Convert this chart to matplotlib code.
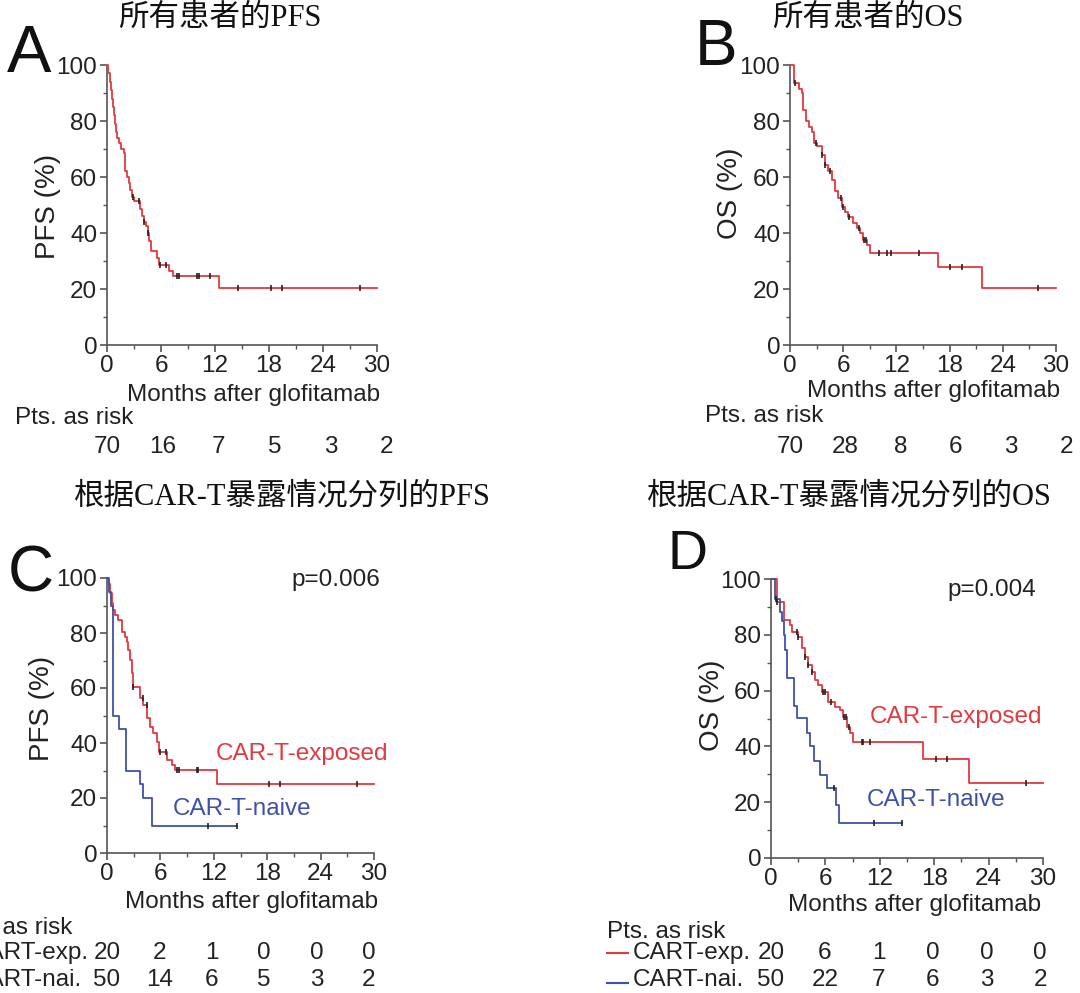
import numpy as np
import matplotlib.pyplot as plt
from matplotlib.ticker import MultipleLocator
from matplotlib.lines import Line2D
from matplotlib.transforms import blended_transform_factory

plt.rcParams['font.family'] = ['Liberation Sans', 'Noto Sans CJK SC', 'DejaVu Sans']

W, H = 1080, 993
RED = '#e3393f'
BLUE = '#3e50a8'
INK = '#222222'
AXC = '#555555'
TITLE_FONT = ['Liberation Serif', 'Noto Sans CJK SC']
TXT = 17.5

# ---- data (months, survival %) ----
a_pfs_t = [0, 0.15, 0.3, 0.45, 0.55, 0.65, 0.75, 0.85, 0.95, 1.15, 1.35, 1.5, 1.85, 1.95, 2.05,
           2.25, 2.4, 2.6, 2.8, 2.95, 3.65, 3.85, 4.1, 4.3, 4.5, 4.7, 4.9, 5.6, 5.75, 6.9, 7.3, 12.4, 30]
a_pfs_s = [100, 97, 94, 91, 88, 85, 82, 79, 76, 74, 72, 70, 68.5, 65, 62,
           60, 58, 55.5, 53, 51.5, 48.5, 46, 44, 42.5, 40, 37, 33.5, 31, 28.5, 26.5, 24.5, 20.5, 20.5]
a_pfs_cens = [2.85, 3.6, 4.1, 4.5, 5.9, 6.55, 7.8, 8.0, 10.0, 10.2, 11.4, 14.5, 18.2, 19.4, 28.1]

b_os_t = [0, 0.45, 1.05, 1.3, 1.5, 1.8, 2.18, 2.44, 2.7, 3.0, 3.57, 3.95, 4.32, 4.7, 5.08, 5.45,
          5.83, 6.2, 6.58, 7.07, 7.52, 7.9, 8.27, 8.65, 9.0, 16.7, 21.7, 30]
b_os_s = [100, 93.5, 91.3, 90, 84, 80, 78, 76, 72, 71, 68, 64.3, 62, 59, 55, 52.4,
          49.4, 47.6, 45.8, 43.5, 41.7, 39.9, 37.5, 35.7, 32.7, 28, 20.5, 20.5]
b_os_cens = [0.55, 2.9, 3.6, 4.0, 4.5, 5.8, 5.95, 6.65, 7.8, 8.4, 8.55, 10.0, 10.9, 11.35,
             14.5, 18.1, 19.4, 28.0]

c_exp_t = [0, 0.15, 0.34, 0.52, 0.71, 0.9, 1.27, 1.65, 2.02, 2.2, 2.4, 2.58, 2.77, 2.96, 3.7,
           4.08, 4.46, 4.83, 5.2, 5.58, 5.88, 6.7, 7.27, 7.64, 12.4, 30]
c_exp_s = [100, 98, 94.4, 90.8, 88.4, 86.5, 84.7, 80.5, 78.7, 76.8, 73.8, 70.2, 65.3, 60.5, 56.2,
           53.8, 49, 46, 43.5, 40.5, 36.8, 33.8, 32, 30.2, 25, 25]
c_exp_cens = [2.96, 4.0, 4.45, 5.96, 6.6, 7.9, 8.1, 10.1, 10.2, 18.2, 19.4, 28.05]
c_nai_t = [0, 0.2, 0.45, 0.71, 1.38, 2.13, 3.7, 4.08, 5.0, 14.6]
c_nai_s = [100, 95, 90, 50, 45, 30, 25, 20, 10, 10]
c_nai_cens = [11.4, 14.6]

d_exp_t = [0, 0.62, 1.47, 2.1, 2.28, 3.0, 3.38, 3.75, 4.12, 4.49, 4.85, 5.22, 5.59, 6.32, 7.06,
           7.6, 7.98, 8.35, 8.71, 9.08, 16.8, 21.84, 30]
d_exp_s = [100, 91.9, 85.3, 83.5, 81, 79.3, 75.1, 72, 69, 66.8, 63.8, 62, 59.6, 56, 54.2,
           53, 50.6, 47, 44.7, 41.7, 35.5, 26.8, 26.8]
d_exp_cens = [0.62, 2.83, 3.0, 3.75, 4.12, 4.49, 5.77, 5.95, 6.6, 8.0, 8.3, 8.55, 10.0, 10.1,
              10.9, 18.2, 19.4, 28.1]
d_nai_t = [0, 0.48, 0.95, 1.21, 1.4, 1.58, 1.76, 2.5, 2.87, 3.97, 4.34, 4.7, 5.44, 6.18, 7.17, 7.46, 14.45]
d_nai_s = [100, 93, 88, 85, 80, 74.7, 64.5, 54.4, 50.2, 44.8, 40, 34.6, 29.9, 25, 19.1, 12.5, 12.5]
d_nai_cens = [0.55, 6.9, 11.4, 14.45]

risk_times = [0, 6, 12, 18, 24, 30]
a_risk = [70, 16, 7, 5, 3, 2]
b_risk = [70, 28, 8, 6, 3, 2]
c_risk_exp = [20, 2, 1, 0, 0, 0]
c_risk_nai = [50, 14, 6, 5, 3, 2]
d_risk_exp = [20, 6, 1, 0, 0, 0]
d_risk_nai = [50, 22, 7, 6, 3, 2]

titles = ['所有患者的PFS', '所有患者的OS', '根据CAR-T暴露情况分列的PFS', '根据CAR-T暴露情况分列的OS']


def fx(px):
    return px / W


def fy(py):
    return 1 - py / H


def make_axes(fig, l, t, r, b):
    return fig.add_axes([fx(l), fy(b), (r - l) / W, (b - t) / H])


def style(ax, ylabel, ylab_xy, xlab_xy):
    ax.set_xlim(0, 30)
    ax.set_ylim(0, 100)
    ax.spines[['top', 'right']].set_visible(False)
    for s in ['left', 'bottom']:
        ax.spines[s].set_color(AXC)
        ax.spines[s].set_linewidth(1.2)
    ax.xaxis.set_major_locator(MultipleLocator(6))
    ax.xaxis.set_minor_locator(MultipleLocator(3))
    ax.yaxis.set_major_locator(MultipleLocator(20))
    ax.yaxis.set_minor_locator(MultipleLocator(10))
    ax.tick_params(which='major', length=5, width=1.2, color=AXC, labelsize=TXT,
                   labelcolor=INK, pad=2)
    ax.tick_params(which='minor', length=3, width=1.0, color=AXC)
    ax.text(*ylab_xy, ylabel, transform=ax.transAxes, rotation=90, ha='center',
            va='center', fontsize=20, color=INK)
    ax.text(*xlab_xy, 'Months after glofitamab', transform=ax.transAxes, ha='center',
            va='center', fontsize=TXT, color=INK)


def km(ax, t, s, cens, color):
    t = np.array(t)
    s = np.array(s)
    ax.step(t, s, where='post', color=color, lw=1.3, clip_on=False, zorder=3)
    c = np.array(cens)
    idx = np.searchsorted(t, c, side='right') - 1
    ax.plot(c, s[idx], '|', color=INK, ms=5, mew=1.2, zorder=4, clip_on=False)


def risk_row(fig, ax, values, py, stretch=1.0):
    tr = blended_transform_factory(ax.transData, fig.transFigure)
    for tt, v in zip(risk_times, values):
        fig.text(tt * stretch, fy(py), str(v), transform=tr, ha='center', va='center',
                 fontsize=TXT, color=INK)


fig = plt.figure(figsize=(W / 100, H / 100), dpi=100)

axA = make_axes(fig, 107, 65, 377, 345)
axB = make_axes(fig, 790, 65, 1056, 345)
axC = make_axes(fig, 107, 578, 374, 853)
axD = make_axes(fig, 771, 579, 1043, 858)

style(axA, 'PFS (%)', (-0.218, 0.496), (0.541, -0.179))
style(axB, 'OS (%)', (-0.226, 0.54), (0.538, -0.164))
style(axC, 'PFS (%)', (-0.243, 0.527), (0.543, -0.178))
style(axD, 'OS (%)', (-0.217, 0.548), (0.526, -0.168))

km(axA, a_pfs_t, a_pfs_s, a_pfs_cens, RED)
km(axB, b_os_t, b_os_s, b_os_cens, RED)
km(axC, c_exp_t, c_exp_s, c_exp_cens, RED)
km(axC, c_nai_t, c_nai_s, c_nai_cens, BLUE)
km(axD, d_exp_t, d_exp_s, d_exp_cens, RED)
km(axD, d_nai_t, d_nai_s, d_nai_cens, BLUE)

# group labels and p values
axC.text(1.022, 0.993, 'p=0.006', transform=axC.transAxes, ha='right', va='center',
         fontsize=TXT, color=INK)
axD.text(0.974, 0.96, 'p=0.004', transform=axD.transAxes, ha='right', va='center',
         fontsize=TXT, color=INK)
axC.text(0.408, 0.36, 'CAR-T-exposed', transform=axC.transAxes, ha='left', va='center',
         fontsize=TXT, color=RED)
axC.text(0.247, 0.16, 'CAR-T-naive', transform=axC.transAxes, ha='left', va='center',
         fontsize=TXT, color=BLUE)
axD.text(0.364, 0.504, 'CAR-T-exposed', transform=axD.transAxes, ha='left', va='center',
         fontsize=TXT, color=RED)
axD.text(0.353, 0.208, 'CAR-T-naive', transform=axD.transAxes, ha='left', va='center',
         fontsize=TXT, color=BLUE)

# titles
for text, cx, cy in zip(titles, [220, 868, 282, 849], [18, 18, 497, 497]):
    fig.text(fx(cx), fy(cy), text, ha='center', va='center', fontsize=22,
             family=TITLE_FONT, color='#111111')

# panel letters
for letter, lx, by, size in [('A', 7, 72, 48), ('B', 695, 65, 46), ('C', 8, 592, 46),
                             ('D', 667, 569, 40)]:
    fig.text(fx(lx), fy(by), letter, ha='left', va='baseline', fontsize=size, color='#111111')

# numbers at risk
fig.text(fx(15), fy(418), 'Pts. as risk', ha='left', va='center', fontsize=TXT, color=INK)
risk_row(fig, axA, a_risk, 447, stretch=1.035)
fig.text(fx(705), fy(416), 'Pts. as risk', ha='left', va='center', fontsize=TXT, color=INK)
risk_row(fig, axB, b_risk, 447, stretch=1.04)

# left part of these labels runs off the page edge, as in the source figure
fig.text(fx(-46), fy(928), 'Pts. as risk', ha='left', va='center', fontsize=TXT, color=INK)
fig.text(fx(-29), fy(953), 'CART-exp.', ha='left', va='center', fontsize=TXT, color=INK)
fig.text(fx(-29), fy(980), 'CART-nai.', ha='left', va='center', fontsize=TXT, color=INK)
risk_row(fig, axC, c_risk_exp, 953, stretch=0.98)
risk_row(fig, axC, c_risk_nai, 980, stretch=0.98)

fig.text(fx(607), fy(932), 'Pts. as risk', ha='left', va='center', fontsize=TXT, color=INK)
fig.text(fx(633), fy(953), 'CART-exp.', ha='left', va='center', fontsize=TXT, color=INK)
fig.text(fx(633), fy(980), 'CART-nai.', ha='left', va='center', fontsize=TXT, color=INK)
fig.add_artist(Line2D([fx(607), fx(628)], [fy(953), fy(953)], color=RED, lw=1.5))
fig.add_artist(Line2D([fx(607), fx(628)], [fy(983), fy(983)], color=BLUE, lw=1.5))
risk_row(fig, axD, d_risk_exp, 953, stretch=0.99)
risk_row(fig, axD, d_risk_nai, 980, stretch=0.99)

fig.savefig('out.png', dpi=100, facecolor='white')
